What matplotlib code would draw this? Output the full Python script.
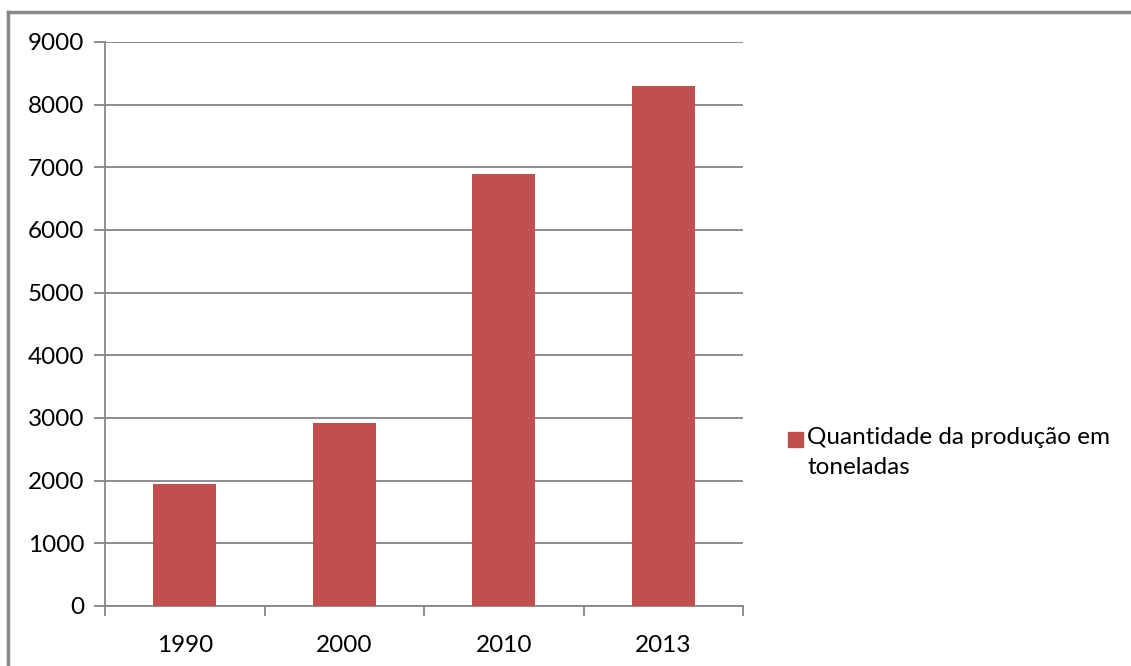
import matplotlib.pyplot as plt
from matplotlib.patches import Rectangle
from matplotlib.lines import Line2D

# producao em toneladas por ano
anos = ['1990', '2000', '2010', '2013']
producao = [1950, 2920, 6900, 8300]
legenda = 'Quantidade da produção em\ntoneladas'

plt.rcParams['font.family'] = ['Lato', 'DejaVu Sans']

W, H = 1131, 666
fig = plt.figure(figsize=(W / 100, H / 100), dpi=100)
ax = fig.add_axes([105 / W, 1 - 606 / H, (743 - 105) / W, (606 - 42) / H])

cor = '#C0504D'
cinza = '#868686'
x = range(len(anos))
ax.bar(x, producao, width=0.395, color=cor, zorder=3)

ax.set_xlim(-0.5, len(anos) - 0.5)
ax.set_ylim(0, 9000)
ax.set_yticks(range(0, 9001, 1000))
ax.yaxis.grid(True, color=cinza, linewidth=1.3, zorder=0)

ax.set_xticks(x)
ax.set_xticklabels(anos)
ax.set_xticks([i - 0.5 for i in range(len(anos) + 1)], minor=True)
ax.tick_params(axis='x', which='major', length=0, pad=21, labelsize=17.5)
ax.tick_params(axis='x', which='minor', length=7, color=cinza, width=1.3, direction='out')
ax.tick_params(axis='y', length=8, color=cinza, width=1.3, pad=7, labelsize=17.5)

for s in ['top', 'right']:
    ax.spines[s].set_visible(False)
for s in ['left', 'bottom']:
    ax.spines[s].set_color(cinza)
    ax.spines[s].set_linewidth(1.3)

# legenda manual
fig.patches.append(Rectangle((788 / W, 1 - 447 / H), 15 / W, 15 / H,
                             transform=fig.transFigure, color=cor))
fig.text(807 / W, 1 - 427 / H, legenda, fontsize=17.5, va='top', ha='left',
         linespacing=1.55)

# moldura
fig.lines.append(Line2D([8 / W, 8 / W], [0, 1 - 12 / H], transform=fig.transFigure,
                        color='#888888', linewidth=2.5))
fig.lines.append(Line2D([8 / W, 1], [1 - 12 / H, 1 - 12 / H], transform=fig.transFigure,
                        color='#888888', linewidth=2.5))

fig.savefig('out.png', dpi=100)
